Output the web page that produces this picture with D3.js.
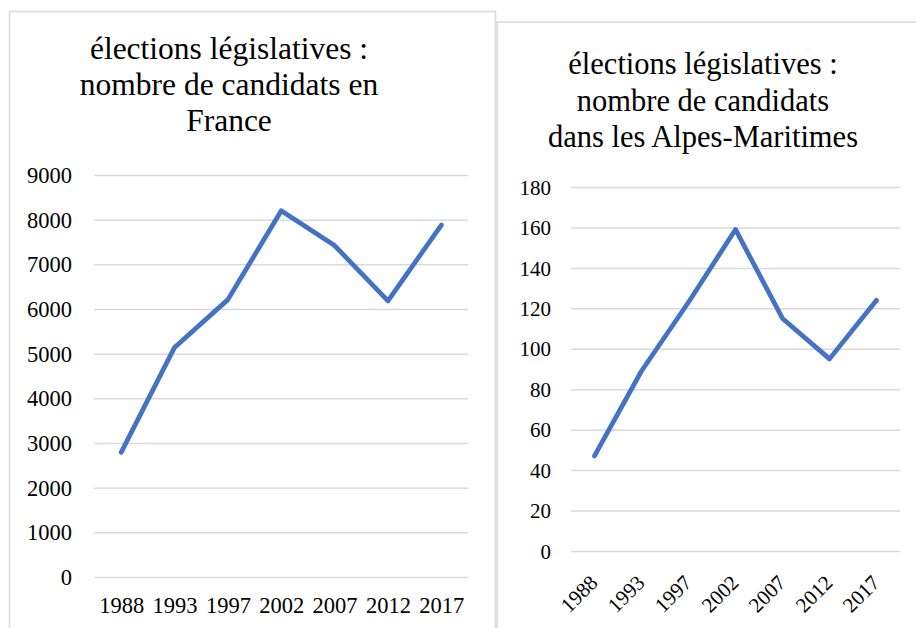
<!DOCTYPE html>
<html>
<head>
<meta charset="utf-8">
<script src="https://cdn.jsdelivr.net/npm/d3@7"></script>
<style>
  body { margin: 0; background: #ffffff; }
  text { font-family: "Liberation Serif", "Times New Roman", serif; fill: #000000; }
</style>
</head>
<body>
<div id="chart"></div>
<script>
//////////////////////////////////////////////////////////////////////////////
// Data

var years = ["1988", "1993", "1997", "2002", "2007", "2012", "2017"];

var franceCounts = [2790, 5140, 6210, 8200, 7420, 6180, 7880];
var alpesCounts  = [47, 89, 123, 159, 115, 95, 124];

var franceTicks = [0, 1000, 2000, 3000, 4000, 5000, 6000, 7000, 8000, 9000];
var alpesTicks  = [0, 20, 40, 60, 80, 100, 120, 140, 160, 180];

var franceTitle = ["élections législatives :", "nombre de candidats en", "France"];
var alpesTitle  = ["élections législatives :", "nombre de candidats", "dans les Alpes-Maritimes"];

//////////////////////////////////////////////////////////////////////////////
// Preliminaries

var width = 916, height = 628;
var lineColor = "#4472c4";
var gridColor = "#d9d9d9";
var serif = "'Liberation Serif', 'Times New Roman', serif";

var svg = d3.select("#chart")
    .append("svg")
    .attr("width", width)
    .attr("height", height);

svg.append("rect")
    .attr("width", width).attr("height", height)
    .attr("fill", "#ffffff");

// chart frames
svg.append("rect")
    .attr("x", 9.5).attr("y", 11.5)
    .attr("width", 486).attr("height", 700)
    .attr("fill", "none").attr("stroke", gridColor).attr("stroke-width", 1.5);

svg.append("rect")
    .attr("x", 497).attr("y", 22)
    .attr("width", 500).attr("height", 700)
    .attr("fill", "#ffffff").attr("stroke", gridColor).attr("stroke-width", 1.5);

function drawChart(opt)
{
    var x = d3.scalePoint().domain(years).range([opt.left, opt.right]).padding(0.5);
    var y = d3.scaleLinear().domain([0, opt.max]).range([opt.bottom, opt.top]);

    // title
    svg.append("g")
        .selectAll("text")
        .data(opt.title)
        .enter()
        .append("text")
        .attr("x", opt.titleX)
        .attr("y", function(d, i) { return opt.titleY + i * opt.titleStep; })
        .attr("text-anchor", "middle")
        .style("font-family", serif)
        .style("font-size", opt.titleSize + "px")
        .text(function(d) { return d; });

    // y axis with gridlines
    var yAxis = svg.append("g")
        .attr("transform", "translate(" + opt.left + ",0)")
        .call(d3.axisLeft(y)
            .tickValues(opt.ticks)
            .tickFormat(d3.format("d"))
            .tickSize(-(opt.right - opt.left))
            .tickPadding(opt.left - opt.labelRight));
    yAxis.select(".domain").remove();
    yAxis.selectAll(".tick line")
        .attr("stroke", gridColor)
        .attr("stroke-width", 1.5);
    yAxis.selectAll(".tick text")
        .attr("dy", "0.34em")
        .style("font-size", opt.tickSize + "px")
        .style("font-family", serif);

    // x axis
    var xAxis = svg.append("g")
        .attr("transform", "translate(0," + opt.bottom + ")")
        .call(d3.axisBottom(x).tickSize(0));
    xAxis.select(".domain").remove();
    var xText = xAxis.selectAll(".tick text")
        .style("font-size", opt.tickSize + "px")
        .style("font-family", serif);
    if (opt.rotate) {
        xText.attr("y", null).attr("dy", null)
            .attr("text-anchor", "end")
            .attr("transform", "translate(4," + opt.xLabelDy + ") rotate(-45)");
    } else {
        xText.attr("y", opt.xLabelDy).attr("dy", null);
    }

    // series line
    var line = d3.line()
        .x(function(d, i) { return x(years[i]); })
        .y(function(d) { return y(d); });

    svg.append("path")
        .datum(opt.values)
        .attr("d", line)
        .attr("fill", "none")
        .attr("stroke", lineColor)
        .attr("stroke-width", 4.75)
        .attr("stroke-linecap", "round")
        .attr("stroke-linejoin", "round");
}

//////////////////////////////////////////////////////////////////////////////
// France

drawChart({
    values: franceCounts, ticks: franceTicks, max: 9000, title: franceTitle,
    left: 94.5, right: 468, top: 175, bottom: 577, labelRight: 72,
    titleX: 229, titleY: 59, titleStep: 36, titleSize: 31.5,
    tickSize: 22.5, xLabelDy: 36, rotate: false
});

//////////////////////////////////////////////////////////////////////////////
// Alpes-Maritimes

drawChart({
    values: alpesCounts, ticks: alpesTicks, max: 180, title: alpesTitle,
    left: 571, right: 900, top: 187, bottom: 551, labelRight: 551,
    titleX: 703, titleY: 74, titleStep: 36.5, titleSize: 30.5,
    tickSize: 21, xLabelDy: 33, rotate: true
});
</script>
</body>
</html>
